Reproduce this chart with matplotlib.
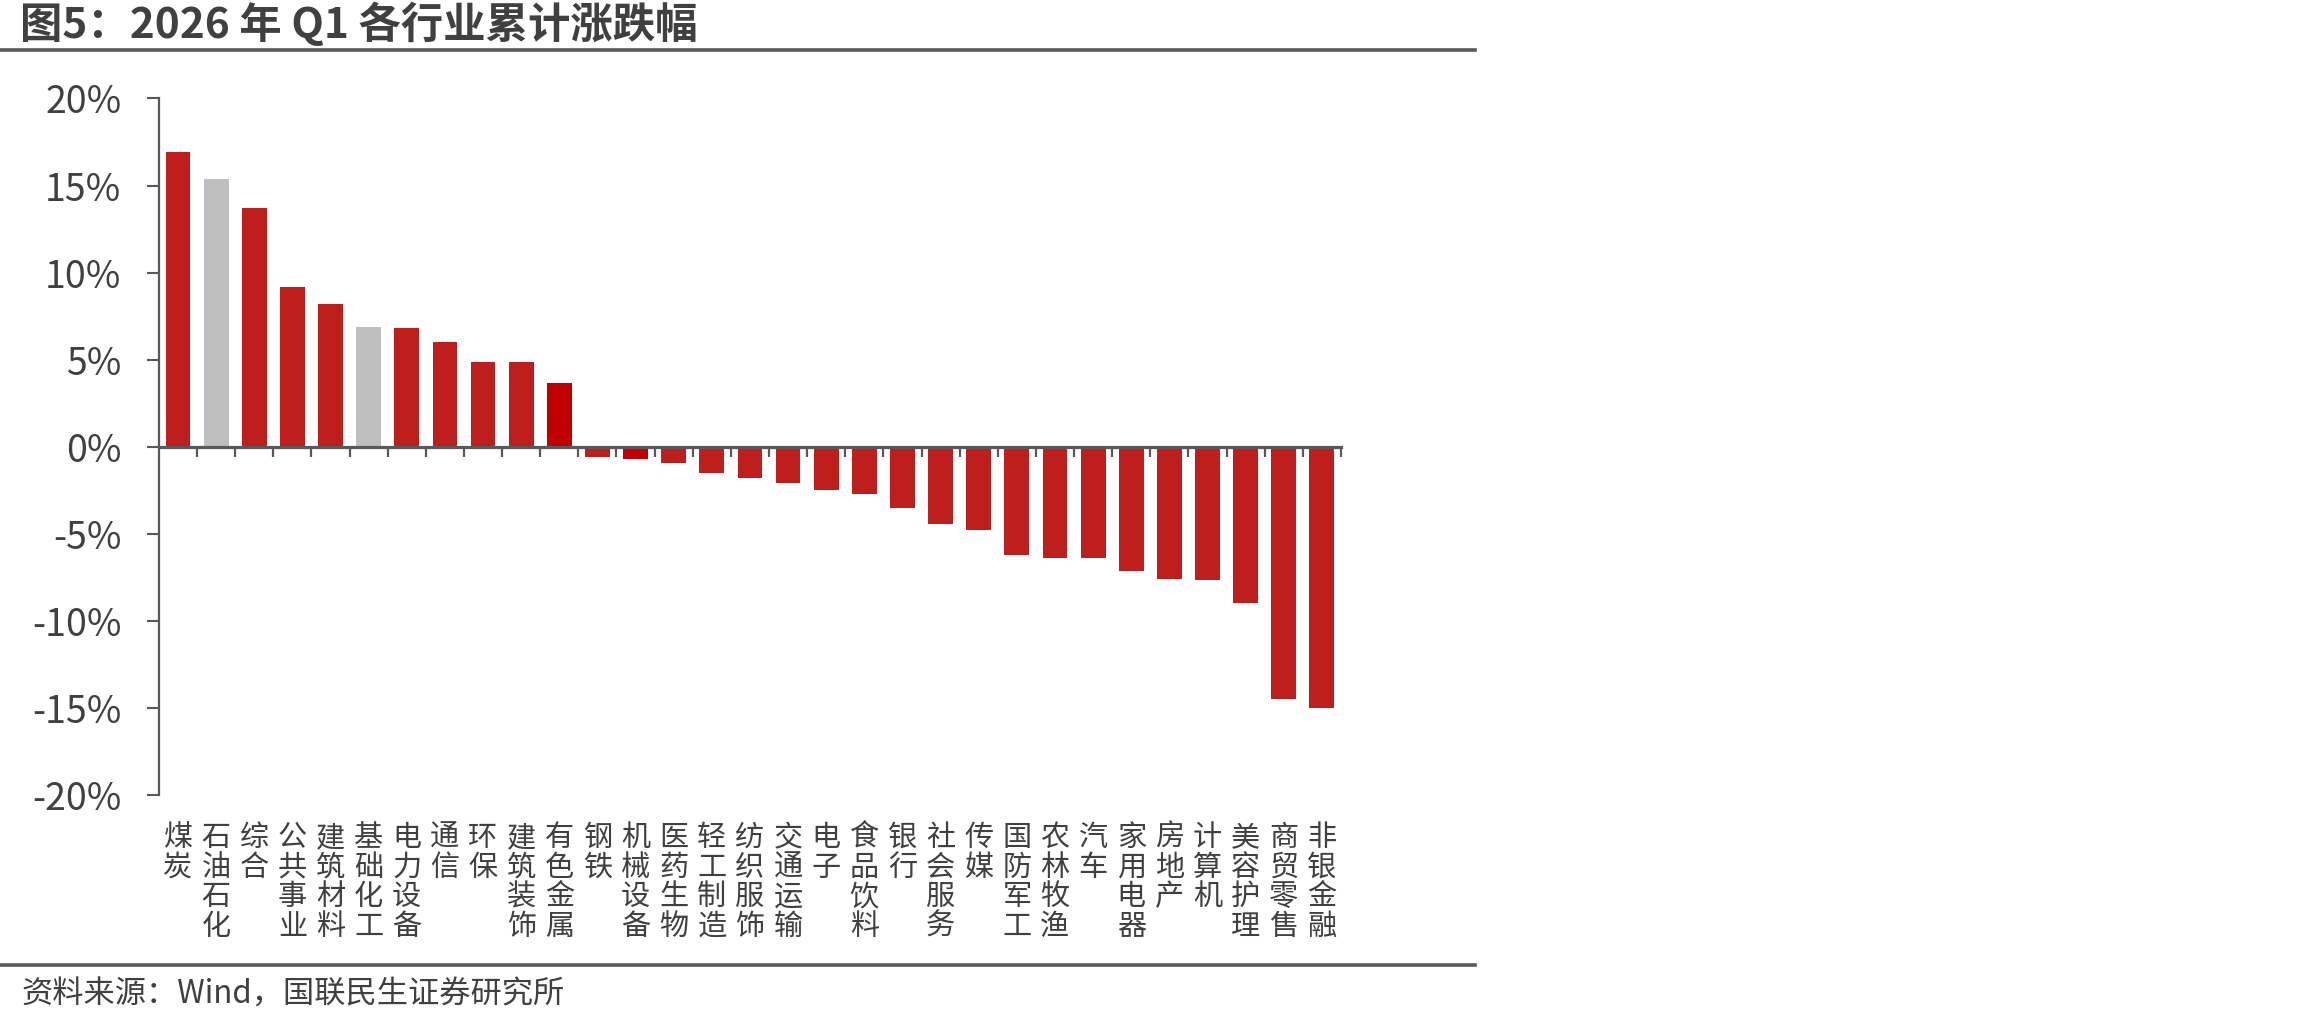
import matplotlib
matplotlib.use('Agg')
import matplotlib.pyplot as plt
from matplotlib.lines import Line2D
from matplotlib.ticker import FuncFormatter

plt.rcParams['font.family'] = ['Noto Sans CJK SC', 'DejaVu Sans']

# 行业与 2026 Q1 累计涨跌幅（%）
industries = ['煤炭', '石油石化', '综合', '公共事业', '建筑材料', '基础化工', '电力设备', '通信',
              '环保', '建筑装饰', '有色金属', '钢铁', '机械设备', '医药生物', '轻工制造', '纺织服饰',
              '交通运输', '电子', '食品饮料', '银行', '社会服务', '传媒', '国防军工', '农林牧渔',
              '汽车', '家用电器', '房地产', '计算机', '美容护理', '商贸零售', '非银金融']
changes = [16.9, 15.4, 13.7, 9.2, 8.2, 6.9, 6.8, 6.0, 4.85, 4.87, 3.66,
           -0.57, -0.7, -0.93, -1.49, -1.79, -2.05, -2.45, -2.7, -3.51, -4.4,
           -4.76, -6.18, -6.37, -6.37, -7.12, -7.56, -7.63, -8.95, -14.46, -14.99]
grey_ones = ['石油石化', '基础化工']
dark_ones = ['有色金属', '机械设备']

red = '#BE1F1C'
dark_red = '#C00000'
grey = '#BFBFBF'
text_col = '#404040'
line_col = '#595959'

colors = []
for name in industries:
    if name in grey_ones:
        colors.append(grey)
    elif name in dark_ones:
        colors.append(dark_red)
    else:
        colors.append(red)

fig = plt.figure(figsize=(23.1, 10.25), dpi=100)
ax = fig.add_axes([0.0688, 0.2241, 0.5117, 0.6799])

x = list(range(len(industries)))
ax.bar(x, changes, width=0.65, color=colors, zorder=2)

ax.set_xlim(-0.5, len(industries) - 0.5)
ax.set_ylim(-20, 20)
ax.set_yticks([-20, -15, -10, -5, 0, 5, 10, 15, 20])
ax.yaxis.set_major_formatter(FuncFormatter(lambda v, p: f'{v:.0f}%'))
ax.tick_params(axis='y', direction='out', length=9, width=1.5, color=line_col,
               labelsize=27, labelcolor=text_col, pad=18)

# 零轴与分隔刻度
ax.spines['bottom'].set_position(('data', 0))
ax.spines['bottom'].set_linewidth(2.3)
ax.spines['bottom'].set_color(line_col)
ax.spines['bottom'].set_zorder(3)
ax.spines['left'].set_linewidth(1.6)
ax.spines['left'].set_color(line_col)
ax.spines['top'].set_visible(False)
ax.spines['right'].set_visible(False)
ax.set_xticks([i + 0.5 for i in x])
ax.set_xticklabels([])
ax.tick_params(axis='x', direction='out', length=7, width=1.6, color=line_col)

# 行业名称竖排放在底部
sec = ax.secondary_xaxis('bottom')
sec.set_xticks(x)
sec.set_xticklabels(['\n'.join(n) for n in industries], fontsize=21, color=text_col,
                    linespacing=0.98, va='top')
sec.tick_params(axis='x', length=0, pad=20)
sec.spines['bottom'].set_visible(False)

# 标题、来源与分隔线
fig.text(0.0087, 0.9756, '图5：2026 年 Q1 各行业累计涨跌幅', fontsize=30.5, fontweight='bold',
         color=text_col, va='center', ha='left')
fig.add_artist(Line2D([0, 0.6385], [0.9512, 0.9512], transform=fig.transFigure,
                      color=line_col, linewidth=2.6))
fig.add_artist(Line2D([0, 0.6385], [0.059, 0.059], transform=fig.transFigure,
                      color=line_col, linewidth=2.6))
fig.text(0.0091, 0.0298, '资料来源：Wind，国联民生证券研究所', fontsize=22.5,
         color=text_col, va='center', ha='left')

fig.savefig('out.png', dpi=100, facecolor='white')
